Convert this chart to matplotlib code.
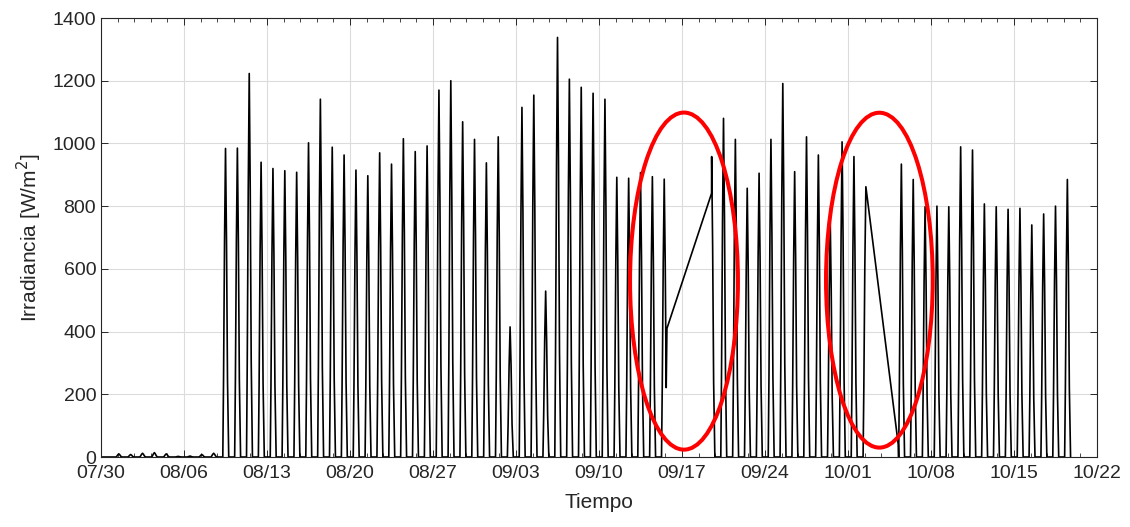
import numpy as np
import pandas as pd
import matplotlib
matplotlib.use('Agg')
import matplotlib.pyplot as plt
import matplotlib.dates as mdates
import matplotlib.ticker as mticker
from matplotlib.patches import Ellipse

# =============================================================================
# DATA
# =============================================================================
start_day = '2019-07-30'

# daily peak irradiance [W/m2], one value per day from 07/30, None = no data
daily_peak = [0, 10, 8, 12, 14, 10, 2, 3, 8, 12,
              984, 985, 1223, 940, 920, 913, 908, 1002, 1141, 988,
              963, 915, 897, 970, 934, 1015, 974, 992, 1170, 1200,
              1069, 1013, 938, 1021, 415, 1115, 1154, 529, 1338, 1205,
              1179, 1160, 1141, 892, 889, 907, 894, 886, None, None,
              None, 958, 1080, 1013, 857, 905, 1013, 1191, 910, 1021,
              963, 760, 1005, 958, 862, None, None, 934, 885, 798,
              800, 798, 989, 979, 807, 798, 790, 793, 740, 775,
              800, 885]

# shape of one sunny day (hour of day, fraction of the peak)
profile_hours = [6.5, 8, 10, 12, 14, 16, 18.5]
profile_frac = [0, 0.25, 0.7, 1.0, 0.7, 0.25, 0]

# missing data stretches (straight line drawn across them)
gap_start = ['2019-09-15 17:30', '2019-10-02 12:10']
gap_start_val = [410, 862]
gap_end = ['2019-09-19 11:50', '2019-10-05 05:45']
gap_end_val = [841, 40]

tick_labels = ['07/30', '08/06', '08/13', '08/20', '08/27', '09/03', '09/10',
               '09/17', '09/24', '10/01', '10/08', '10/15', '10/22']

# red marks around the gaps
ell_center = ['2019-09-17 04:00', '2019-10-03 15:30']
ell_y = [561, 564]
ell_w = [9.1, 9.0]     # days
ell_h = [1075, 1068]   # W/m2

# =============================================================================
# BUILD SERIES
# =============================================================================
t0 = pd.Timestamp(start_day)
times, vals = [], []
for d, pk in enumerate(daily_peak):
    if pk is None:
        continue
    day = t0 + pd.Timedelta(days=d)
    times.append(day)
    vals.append(0)
    for h, f in zip(profile_hours, profile_frac):
        times.append(day + pd.Timedelta(hours=h))
        vals.append(pk * f)

df = pd.DataFrame({'t': times, 'v': vals})
for gs, ge, gsv, gev in zip(gap_start, gap_end, gap_start_val, gap_end_val):
    gs, ge = pd.Timestamp(gs), pd.Timestamp(ge)
    df = df[(df.t < gs) | (df.t > ge)]
    df = pd.concat([df, pd.DataFrame({'t': [gs, ge], 'v': [gsv, gev]})])
df = df.sort_values('t', kind='stable')

# =============================================================================
# PLOT
# =============================================================================
plt.rcParams['font.family'] = ['Liberation Sans', 'DejaVu Sans']
txt_col = '#262626'

fig = plt.figure(figsize=(11.3, 5.27), dpi=100)
ax = fig.add_axes([0.0894, 0.1328, 0.8814, 0.833])

ax.plot(mdates.date2num(df.t), df.v, color='k', lw=1.2)

for c, y, w, h in zip(ell_center, ell_y, ell_w, ell_h):
    ax.add_patch(Ellipse((mdates.date2num(pd.Timestamp(c)), y), w, h,
                         fill=False, edgecolor='#ff0000', lw=2.9, zorder=5))

x0 = mdates.date2num(t0)
ax.set_xlim(x0, x0 + 84)
ax.set_ylim(0, 1400)
ax.xaxis.set_major_locator(mticker.FixedLocator(x0 + 7 * np.arange(len(tick_labels))))
ax.xaxis.set_minor_locator(mticker.FixedLocator(x0 + np.arange(0, 84.01, 1.4)))
ax.set_xticklabels(tick_labels)
ax.set_yticks(np.arange(0, 1401, 200))

ax.grid(True, which='major', color='#dcdcdc', lw=0.8)
ax.set_axisbelow(True)
ax.tick_params(which='both', direction='in', top=True, right=True,
               colors=txt_col, labelsize=14)
ax.tick_params(which='major', length=5, width=0.7)
ax.tick_params(which='minor', length=3, width=0.6)
ax.tick_params(axis='x', pad=6)
for s in ax.spines.values():
    s.set_color(txt_col)
    s.set_linewidth(0.8)

ax.set_xlabel('Tiempo', fontsize=15, color=txt_col, labelpad=8)
ax.set_ylabel('Irradiancia [W/m$^2$]', fontsize=15, color=txt_col, labelpad=6)

fig.savefig('out.png', dpi=100)
